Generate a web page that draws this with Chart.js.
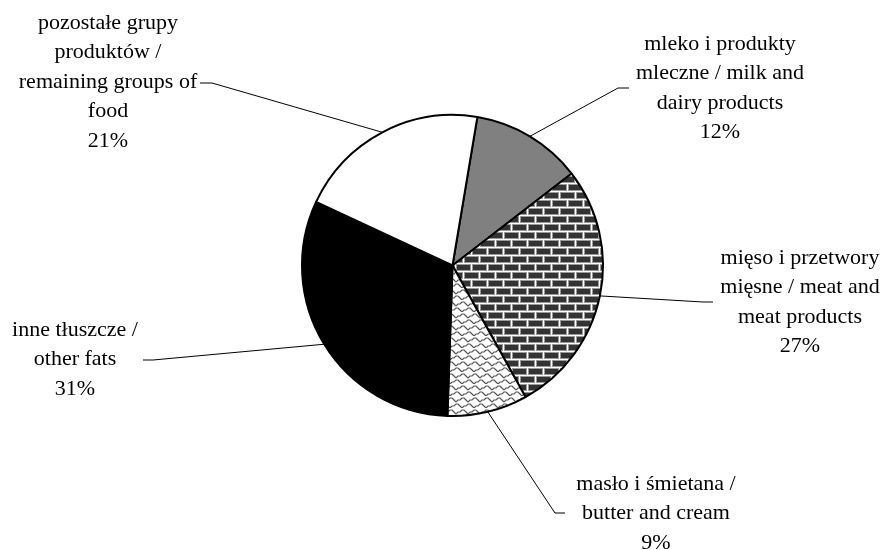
<!DOCTYPE html>
<html>
<head>
<meta charset="utf-8">
<script src="https://cdn.jsdelivr.net/npm/chart.js@4/dist/chart.umd.min.js"></script>
<style>
html,body{margin:0;padding:0;background:#fff;}
#wrap{width:891px;height:550px;position:relative;}
</style>
</head>
<body>
<div id="wrap"><canvas id="c" width="891" height="550"></canvas></div>
<script>
// ---- data ----
const categories = [
  ['mleko i produkty', 'mleczne / milk and', 'dairy products'],
  ['mięso i przetwory', 'mięsne / meat and', 'meat products'],
  ['masło i śmietana /', 'butter and cream'],
  ['inne tłuszcze /', 'other fats'],
  ['pozostałe grupy', 'produktów /', 'remaining groups of', 'food']
];
const shares = [11.9, 27.4, 8.6, 31.4, 20.7];

// ---- patterns ----
function brickPattern() {
  const c = document.createElement('canvas');
  c.width = 16; c.height = 16;
  const g = c.getContext('2d');
  g.fillStyle = '#ffffff'; g.fillRect(0, 0, 16, 16);
  const brick = (x, y) => {
    g.fillStyle = '#9a9a9a'; g.fillRect(x - 1, y - 1, 15, 7);
    g.fillStyle = '#333333'; g.fillRect(x, y, 13, 5);
  };
  brick(1, 1); brick(-15, 1); brick(17, 1);
  brick(9, 9); brick(-7, 9);
  return g.createPattern(c, 'repeat');
}
function scalePattern() {
  const c = document.createElement('canvas');
  c.width = 12; c.height = 12;
  const g = c.getContext('2d');
  g.fillStyle = '#ffffff'; g.fillRect(0, 0, 12, 12);
  g.strokeStyle = '#555555'; g.lineWidth = 1.2;
  const draw = (ox, oy) => {
    g.beginPath();
    g.moveTo(ox, oy + 6);
    g.lineTo(ox + 2, oy + 4);
    g.lineTo(ox + 4, oy + 4);
    g.lineTo(ox + 6, oy + 2);
    g.lineTo(ox + 8, oy + 2);
    g.lineTo(ox + 10, oy + 4);
    g.lineTo(ox + 12, oy + 6);
    g.stroke();
  };
  draw(0, 0); draw(0, 12); draw(-6, 6); draw(6, 6);
  return g.createPattern(c, 'repeat');
}

const fills = ['#808080', brickPattern(), scalePattern(), '#000000', '#ffffff'];

// label layout: text centre x, first line y, elbow point, line end
const layout = [
  {x: 720, y: 44, ex: 618, ey: 88, tx: 629},
  {x: 800, y: 258, ex: 703, ey: 302, tx: 713},
  {x: 656, y: 484, ex: 555, ey: 513, tx: 565},
  {x: 75,  y: 330, ex: 153, ey: 360, tx: 143},
  {x: 108, y: 23,  ex: 212, ey: 83,  tx: 200}
];
const LINE_H = 29.5;

const labelPlugin = {
  id: 'pieLabels',
  afterDatasetsDraw(chart) {
    const ctx = chart.ctx;
    const meta = chart.getDatasetMeta(0);
    const total = shares.reduce((a, b) => a + b, 0);
    ctx.save();
    meta.data.forEach((arc, i) => {
      const p = arc.getProps(['x', 'y', 'startAngle', 'endAngle', 'outerRadius'], true);
      const mid = (p.startAngle + p.endAngle) / 2;
      const sx = p.x + Math.cos(mid) * p.outerRadius;
      const sy = p.y + Math.sin(mid) * p.outerRadius;
      const L = layout[i];
      ctx.strokeStyle = '#000';
      ctx.lineWidth = 1;
      ctx.beginPath();
      ctx.moveTo(sx, sy);
      ctx.lineTo(L.ex, L.ey);
      ctx.lineTo(L.tx, L.ey);
      ctx.stroke();
      const lines = categories[i].concat([Math.round(shares[i] / total * 100) + '%']);
      ctx.fillStyle = '#000';
      ctx.font = '22px "Liberation Serif", "Times New Roman", serif';
      ctx.textAlign = 'center';
      ctx.textBaseline = 'middle';
      lines.forEach((t, k) => ctx.fillText(t, L.x, L.y + k * LINE_H));
    });
    ctx.restore();
  }
};

new Chart(document.getElementById('c'), {
  type: 'pie',
  data: {
    labels: categories.map(l => l.join(' ')),
    datasets: [{
      data: shares,
      backgroundColor: fills,
      borderColor: '#000',
      borderWidth: 2,
      radius: 150.5
    }]
  },
  options: {
    responsive: false,
    animation: false,
    rotation: 9.5,
    layout: {padding: {left: 300, right: 286, top: 115, bottom: 134}},
    plugins: {legend: {display: false}, tooltip: {enabled: false}}
  },
  plugins: [labelPlugin]
});
</script>
</body>
</html>
